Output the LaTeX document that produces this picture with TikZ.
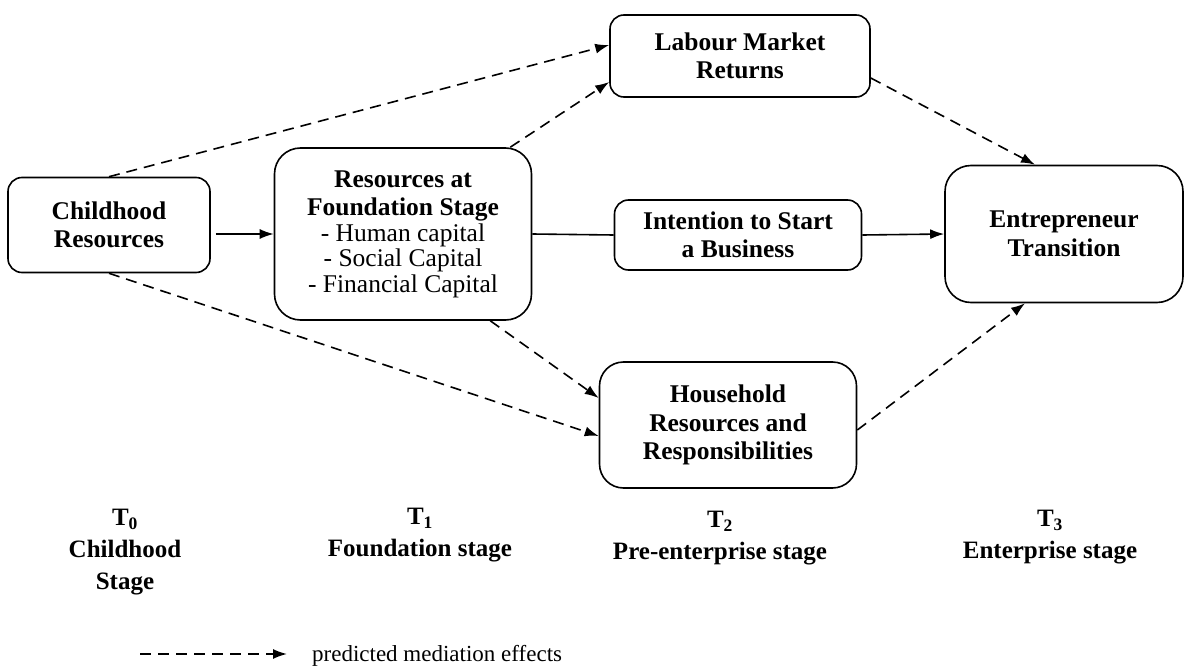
\documentclass[tikz,border=0pt]{standalone}
\usepackage{fontspec}
\setmainfont{Liberation Serif}
\usetikzlibrary{positioning,arrows.meta}

\tikzset{
  box/.style={draw, line width=1.6pt, rounded corners=14pt, align=center,
    font=\bfseries\fontsize{25.5}{28.5}\selectfont, inner sep=2pt},
  stage/.style={align=center, font=\bfseries\fontsize{25}{32}\selectfont},
  mediation/.style={dashed, dash pattern=on 11pt off 7pt},
}

\begin{document}
\begin{tikzpicture}[x=1pt, y=-1pt, line width=1.6pt,
    >={Latex[length=14pt,width=10pt]}]
  \useasboundingbox (0,0) rectangle (1192,669);

  % boxes
  \node[box, minimum width=202pt, minimum height=95pt] (child) at (109,225) {Childhood\\Resources};
  \node[box, minimum width=257pt, minimum height=172pt, rounded corners=26pt] (found) at (403,234)
    {Resources at\\Foundation Stage\\[-3pt]
     {\mdseries - Human capital}\\[-3pt]
     {\mdseries - Social Capital}\\[-3pt]
     {\mdseries - Financial Capital}};
  \node[box, minimum width=260pt, minimum height=82pt] (labour) at (740,56) {Labour Market\\Returns};
  \node[box, minimum width=247pt, minimum height=70pt] (intent) at (738,235) {Intention to Start\\a Business};
  \node[box, minimum width=238pt, minimum height=137pt, rounded corners=26pt] (entre) at (1064,234) {Entrepreneur\\Transition};
  \node[box, minimum width=257pt, minimum height=126pt, rounded corners=24pt] (house) at (728,425)
    {Household\\Resources and\\Responsibilities};

  % stages
  \node[stage] (t0) at (125,552) {T\textsubscript{0}\\Childhood\\Stage};
  \node[stage] (t1) at (420,535) {T\textsubscript{1}\\Foundation stage};
  \node[stage] (t2) at (720,538) {T\textsubscript{2}\\Pre-enterprise stage};
  \node[stage] (t3) at (1050,537) {T\textsubscript{3}\\Enterprise stage};

  \path[->]
    ([xshift=5pt]child.east |- found.west) edge (found.west)
    (intent.east) edge (entre.west);
  \draw (found.east) -- (intent.west);

  \path[->, mediation]
    (child.north) edge ([yshift=11pt]labour.west)
    ([xshift=-22pt]found.north east) edge ([yshift=-26pt]labour.west)
    ([yshift=-22pt]labour.east) edge ([xshift=-29pt]entre.north)

    (child.south) edge ([yshift=-11pt]house.west)
    ([xshift=-42pt]found.south east) edge ([yshift=27pt]house.west)
    ([yshift=-5pt]house.east) edge ([xshift=-39pt]entre.south);

  % legend
  \coordinate (legA) at (140,654);
  \coordinate (legB) at (287,654);
  \draw[->, mediation] (legA) -- (legB);
  \node[anchor=west, font=\fontsize{23}{26}\selectfont] (legtext) at (308,656) {predicted mediation effects};
\end{tikzpicture}
\end{document}
